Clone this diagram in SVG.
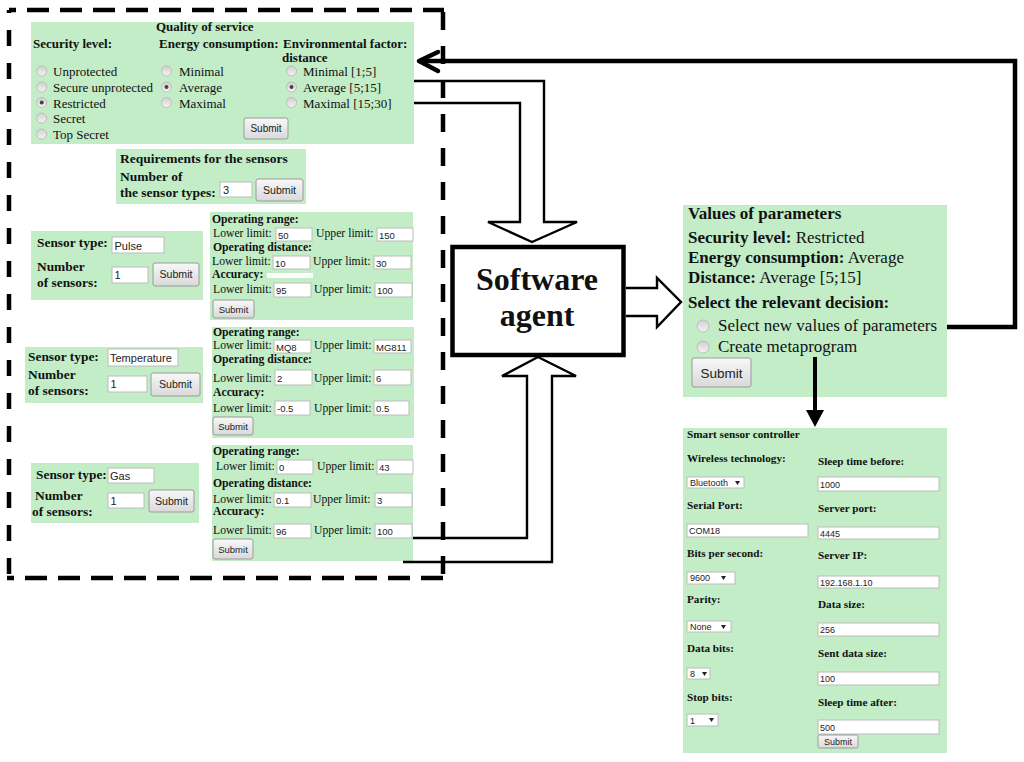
<svg xmlns="http://www.w3.org/2000/svg" width="1024" height="762" viewBox="0 0 1024 762">
<defs>
<linearGradient id="gb" x1="0" y1="0" x2="0" y2="1"><stop offset="0" stop-color="#f8f8f8"/><stop offset="1" stop-color="#d9d9d9"/></linearGradient>
<linearGradient id="gr" x1="0" y1="0" x2="0" y2="1"><stop offset="0" stop-color="#d0d0d0"/><stop offset="1" stop-color="#f4f4f4"/></linearGradient>
<style>
.p{fill:#c2edc6}
.b{font-family:"Liberation Serif",serif;font-weight:bold;fill:#111}
.r{font-family:"Liberation Serif",serif;fill:#111}
.s{font-family:"Liberation Sans",Arial,sans-serif;fill:#222}
.in{fill:#fff;stroke:#bcbcbc;stroke-width:1}
.btn{fill:url(#gb);stroke:#9a9a9a;stroke-width:1}
.rad{fill:url(#gr);stroke:#b4b4b4;stroke-width:0.8}
.dot{fill:#444}
.ln{fill:none;stroke:#000;stroke-width:2.4;stroke-linejoin:miter}
.thick{fill:none;stroke:#000;stroke-width:4.5}
.dash{fill:none;stroke:#000;stroke-width:4.5}
.mid{text-anchor:middle}
.tri{fill:#222}
</style>
</defs>
<rect width="1024" height="762" fill="#fff"/>

<g id="boundary">
<line class="dash" x1="9" y1="10" x2="444" y2="10" stroke-dasharray="22 11" stroke-dashoffset="15"/>
<line class="dash" x1="9" y1="10" x2="9" y2="580" stroke-dasharray="16 17" stroke-dashoffset="13"/>
<line class="dash" x1="443" y1="10" x2="443" y2="580" stroke-dasharray="18 16" stroke-dashoffset="-2"/>
<line class="dash" x1="7" y1="578" x2="445" y2="578" stroke-dasharray="22 11" stroke-dashoffset="15"/>
</g>

<g id="qos">
<rect class="p" x="31" y="22" width="383" height="122"/>
<g font-size="13">
<text class="b" x="156" y="31">Quality of service</text>
<text class="b" x="33" y="47.5">Security level:</text>
<text class="b" x="159" y="47.5">Energy consumption:</text>
<text class="b" x="283" y="47.5">Environmental factor:</text>
<text class="b" x="282" y="61.5">distance</text>
<circle class="rad" cx="41.7" cy="71" r="5"/><text class="r" x="53" y="76">Unprotected</text>
<circle class="rad" cx="41.7" cy="87" r="5"/><text class="r" x="53" y="92">Secure unprotected</text>
<circle class="rad" cx="41.7" cy="102.5" r="5"/><circle class="dot" cx="41.7" cy="102.5" r="2"/><text class="r" x="53" y="107.5">Restricted</text>
<circle class="rad" cx="41.7" cy="118" r="5"/><text class="r" x="53" y="123">Secret</text>
<circle class="rad" cx="41.7" cy="134" r="5"/><text class="r" x="53" y="139">Top Secret</text>
<circle class="rad" cx="166.5" cy="71" r="5"/><text class="r" x="179" y="76">Minimal</text>
<circle class="rad" cx="166.5" cy="87" r="5"/><circle class="dot" cx="166.5" cy="87" r="2"/><text class="r" x="179" y="92">Average</text>
<circle class="rad" cx="166.5" cy="102.5" r="5"/><text class="r" x="179" y="107.5">Maximal</text>
<circle class="rad" cx="291.5" cy="71" r="5"/><text class="r" x="303" y="76">Minimal [1;5]</text>
<circle class="rad" cx="291.5" cy="87" r="5"/><circle class="dot" cx="291.5" cy="87" r="2"/><text class="r" x="303" y="92">Average [5;15]</text>
<circle class="rad" cx="291.5" cy="102.5" r="5"/><text class="r" x="303" y="107.5">Maximal [15;30]</text>
</g>
<rect class="btn" x="244" y="118" width="44" height="21" rx="2"/>
<text class="s mid" x="266" y="132" font-size="10">Submit</text>
</g>

<g id="requirements">
<rect class="p" x="116" y="149" width="190" height="55"/>
<g font-size="13.5">
<text class="b" x="120" y="163">Requirements for the sensors</text>
<text class="b" x="120" y="181">Number of</text>
<text class="b" x="120" y="197">the sensor types:</text>
</g>
<rect class="in" x="220" y="182" width="32" height="15"/>
<text class="s" x="223" y="194" font-size="11">3</text>
<rect class="btn" x="256" y="179" width="47" height="22" rx="2"/>
<text class="s mid" x="279.5" y="194" font-size="10.6">Submit</text>
</g>

<g id="sensor-pulse">
<rect class="p" x="31" y="231" width="172" height="69"/>
<g font-size="13.4">
<text class="b" x="37" y="247">Sensor type:</text>
<text class="b" x="37" y="271">Number</text>
<text class="b" x="37" y="287">of sensors:</text>
</g>
<rect class="in" x="112" y="237" width="52" height="16"/>
<text class="s" x="114.5" y="249.5" font-size="11">Pulse</text>
<rect class="in" x="112" y="267" width="36" height="16"/>
<text class="s" x="114.5" y="279" font-size="11">1</text>
<rect class="btn" x="153" y="263" width="46" height="23" rx="2"/>
<text class="s mid" x="176" y="278" font-size="10.6">Submit</text>
</g>

<g id="req-pulse">
<rect class="p" x="210" y="212" width="203" height="108"/>
<g font-size="11.7">
<text class="b" x="212" y="223">Operating range:</text>
<text class="r" x="213" y="237">Lower limit:</text>
<text class="r" x="316" y="237">Upper limit:</text>
<text class="b" x="213" y="251">Operating distance:</text>
<text class="r" x="212" y="265">Lower limit:</text>
<text class="r" x="313" y="265">Upper limit:</text>
<text class="b" x="212" y="278">Accuracy:</text>
<text class="r" x="213" y="293">Lower limit:</text>
<text class="r" x="314" y="293">Upper limit:</text>
</g>
<rect x="267" y="273" width="46" height="5" fill="#fff"/>
<g font-size="9.5">
<rect class="in" x="276" y="228" width="36" height="13"/><text class="s" x="278" y="238.5">50</text>
<rect class="in" x="377" y="228" width="36" height="13"/><text class="s" x="379" y="238.5">150</text>
<rect class="in" x="273" y="256" width="37" height="13"/><text class="s" x="275" y="266.5">10</text>
<rect class="in" x="374" y="256" width="37" height="13"/><text class="s" x="376" y="266.5">30</text>
<rect class="in" x="274" y="283" width="37" height="14"/><text class="s" x="276" y="294">95</text>
<rect class="in" x="375" y="283" width="37" height="14"/><text class="s" x="377" y="294">100</text>
</g>
<rect class="btn" x="213" y="300" width="41" height="18" rx="2"/>
<text class="s mid" x="233.5" y="313" font-size="9.5">Submit</text>
</g>

<g id="sensor-temperature">
<rect class="p" x="25" y="347" width="178" height="56"/>
<g font-size="13.4">
<text class="b" x="28" y="361">Sensor type:</text>
<text class="b" x="28" y="379">Number</text>
<text class="b" x="28" y="395">of sensors:</text>
</g>
<rect class="in" x="108" y="349" width="70" height="17"/>
<text class="s" x="110" y="361.5" font-size="11">Temperature</text>
<rect class="in" x="108" y="376" width="39" height="16"/>
<text class="s" x="110.5" y="388" font-size="11">1</text>
<rect class="btn" x="151" y="373" width="49" height="23" rx="2"/>
<text class="s mid" x="175.5" y="388" font-size="10.6">Submit</text>
</g>

<g id="req-temperature">
<rect class="p" x="212" y="327" width="202" height="111"/>
<g font-size="11.7">
<text class="b" x="213" y="336">Operating range:</text>
<text class="r" x="213" y="349">Lower limit:</text>
<text class="r" x="314" y="349">Upper limit:</text>
<text class="b" x="213" y="363">Operating distance:</text>
<text class="r" x="213" y="382">Lower limit:</text>
<text class="r" x="314" y="382">Upper limit:</text>
<text class="b" x="213" y="396">Accuracy:</text>
<text class="r" x="213" y="412">Lower limit:</text>
<text class="r" x="314" y="412">Upper limit:</text>
</g>
<g font-size="9.5">
<rect class="in" x="274" y="340" width="37" height="13"/><text class="s" x="276" y="350.5">MQ8</text>
<rect class="in" x="374" y="340" width="37" height="13"/><text class="s" x="376" y="350.5">MG811</text>
<rect class="in" x="275" y="370" width="37" height="15"/><text class="s" x="277" y="381.5">2</text>
<rect class="in" x="374" y="370" width="37" height="15"/><text class="s" x="376" y="381.5">6</text>
<rect class="in" x="275" y="401" width="35" height="14"/><text class="s" x="277" y="412">-0.5</text>
<rect class="in" x="374" y="401" width="35" height="14"/><text class="s" x="376" y="412">0.5</text>
</g>
<rect class="btn" x="213" y="417" width="40" height="18" rx="2"/>
<text class="s mid" x="233" y="430" font-size="9.5">Submit</text>
</g>

<g id="sensor-gas">
<rect class="p" x="31" y="463" width="168" height="60"/>
<g font-size="13.4">
<text class="b" x="36" y="479">Sensor type:</text>
<text class="b" x="35" y="500">Number</text>
<text class="b" x="32" y="516">of sensors:</text>
</g>
<rect class="in" x="108" y="468" width="46" height="15"/>
<text class="s" x="110" y="479.5" font-size="11">Gas</text>
<rect class="in" x="108" y="493" width="36" height="15"/>
<text class="s" x="110.5" y="504.5" font-size="11">1</text>
<rect class="btn" x="149" y="490" width="45" height="22" rx="2"/>
<text class="s mid" x="171.5" y="505" font-size="10.6">Submit</text>
</g>

<g id="req-gas">
<rect class="p" x="212" y="445" width="201" height="116"/>
<g font-size="11.7">
<text class="b" x="213" y="455">Operating range:</text>
<text class="r" x="216" y="470">Lower limit:</text>
<text class="r" x="317" y="470">Upper limit:</text>
<text class="b" x="213" y="487">Operating distance:</text>
<text class="r" x="213" y="503">Lower limit:</text>
<text class="r" x="313" y="503">Upper limit:</text>
<text class="b" x="213" y="515">Accuracy:</text>
<text class="r" x="213" y="534">Lower limit:</text>
<text class="r" x="314" y="534">Upper limit:</text>
</g>
<g font-size="9.5">
<rect class="in" x="277" y="460" width="36" height="14"/><text class="s" x="279" y="471">0</text>
<rect class="in" x="377" y="460" width="36" height="14"/><text class="s" x="379" y="471">43</text>
<rect class="in" x="274" y="493" width="37" height="14"/><text class="s" x="276" y="504">0.1</text>
<rect class="in" x="375" y="493" width="37" height="14"/><text class="s" x="377" y="504">3</text>
<rect class="in" x="274" y="524" width="37" height="14"/><text class="s" x="276" y="535">96</text>
<rect class="in" x="375" y="524" width="37" height="14"/><text class="s" x="377" y="535">100</text>
</g>
<rect class="btn" x="213" y="539" width="40" height="20" rx="2"/>
<text class="s mid" x="233" y="553" font-size="9.5">Submit</text>
</g>

<g id="software-agent">
<rect x="452.5" y="247" width="171" height="108" fill="#fff" stroke="#000" stroke-width="4.5"/>
<text class="b mid" x="537" y="290" font-size="32">Software</text>
<text class="b mid" x="537" y="326" font-size="32">agent</text>
</g>

<g id="values">
<rect class="p" x="683" y="205" width="264" height="192"/>
<g font-size="17">
<text class="b" x="688" y="219">Values of parameters</text>
<text class="r" x="688" y="243"><tspan font-weight="bold">Security level:</tspan> Restricted</text>
<text class="r" x="688" y="263"><tspan font-weight="bold">Energy consumption:</tspan> Average</text>
<text class="r" x="688" y="283"><tspan font-weight="bold">Distance:</tspan> Average [5;15]</text>
<text class="b" x="688" y="308">Select the relevant decision:</text>
<circle class="rad" cx="703" cy="326" r="6"/><text class="r" x="718" y="331">Select new values of parameters</text>
<circle class="rad" cx="703" cy="347" r="6"/><text class="r" x="718" y="352">Create metaprogram</text>
</g>
<rect class="btn" x="692" y="358" width="59" height="29" rx="2"/>
<text class="s mid" x="721.5" y="378" font-size="13.5">Submit</text>
</g>

<g id="controller">
<rect class="p" x="683" y="428" width="264" height="325"/>
<g font-size="11.2">
<text class="b" x="687" y="438">Smart sensor controller</text>
<text class="b" x="687" y="462">Wireless technology:</text>
<text class="b" x="687" y="509">Serial Port:</text>
<text class="b" x="687" y="557">Bits per second:</text>
<text class="b" x="687" y="603">Parity:</text>
<text class="b" x="687" y="652">Data bits:</text>
<text class="b" x="687" y="701">Stop bits:</text>
<text class="b" x="818" y="465">Sleep time before:</text>
<text class="b" x="818" y="512">Server port:</text>
<text class="b" x="818" y="559">Server IP:</text>
<text class="b" x="818" y="608">Data size:</text>
<text class="b" x="818" y="657">Sent data size:</text>
<text class="b" x="818" y="706">Sleep time after:</text>
</g>
<g font-size="9">
<rect class="in" x="687" y="477" width="57" height="11"/><text class="s" x="690" y="486">Bluetooth</text><polygon class="tri" points="735,481 740,481 737.5,485"/>
<rect class="in" x="687" y="524" width="121" height="13"/><text class="s" x="689" y="534">COM18</text>
<rect class="in" x="687" y="572" width="48" height="12"/><text class="s" x="690" y="581">9600</text><polygon class="tri" points="721,576 726,576 723.5,580"/>
<rect class="in" x="687" y="621" width="44" height="11"/><text class="s" x="690" y="630">None</text><polygon class="tri" points="721,625 726,625 723.5,629"/>
<rect class="in" x="687" y="668" width="23" height="11"/><text class="s" x="690" y="677">8</text><polygon class="tri" points="702,672 707,672 704.5,676"/>
<rect class="in" x="687" y="714" width="31" height="12"/><text class="s" x="690" y="723.5">1</text><polygon class="tri" points="709,718 714,718 711.5,722"/>
<rect class="in" x="818" y="477" width="121" height="14"/><text class="s" x="820" y="487.5">1000</text>
<rect class="in" x="818" y="527" width="121" height="12"/><text class="s" x="820" y="537">4445</text>
<rect class="in" x="818" y="576" width="121" height="12"/><text class="s" x="820" y="586">192.168.1.10</text>
<rect class="in" x="818" y="623" width="121" height="13"/><text class="s" x="820" y="633">256</text>
<rect class="in" x="818" y="672" width="121" height="13"/><text class="s" x="820" y="682">100</text>
<rect class="in" x="818" y="720" width="121" height="14"/><text class="s" x="820" y="730.5">500</text>
</g>
<rect class="btn" x="818" y="735" width="40" height="13" rx="1.5"/>
<text class="s mid" x="838" y="745" font-size="9">Submit</text>
</g>

<g id="connectors">
<polyline class="ln" points="414,81 544,81 544,222 577,222 532,242 488,222 520,222 520,103 414,103"/>
<polyline class="ln" points="413,538 527,538 527,376 502,376 538,357 576,376 552,376 552,562 403,562"/>
<polyline class="ln" points="626,288 657,288 657,278 681,302 657,327 657,316 626,316"/>
<polyline class="thick" points="947,327 1015,327 1015,61 421,61"/>
<polyline class="thick" points="438,52 419,61 438,71" stroke-linejoin="round" stroke-linecap="round"/>
<line x1="815" y1="357" x2="815" y2="412" stroke="#000" stroke-width="4"/>
<polygon points="806,410 824,410 815,427" fill="#000"/>
</g>
</svg>
